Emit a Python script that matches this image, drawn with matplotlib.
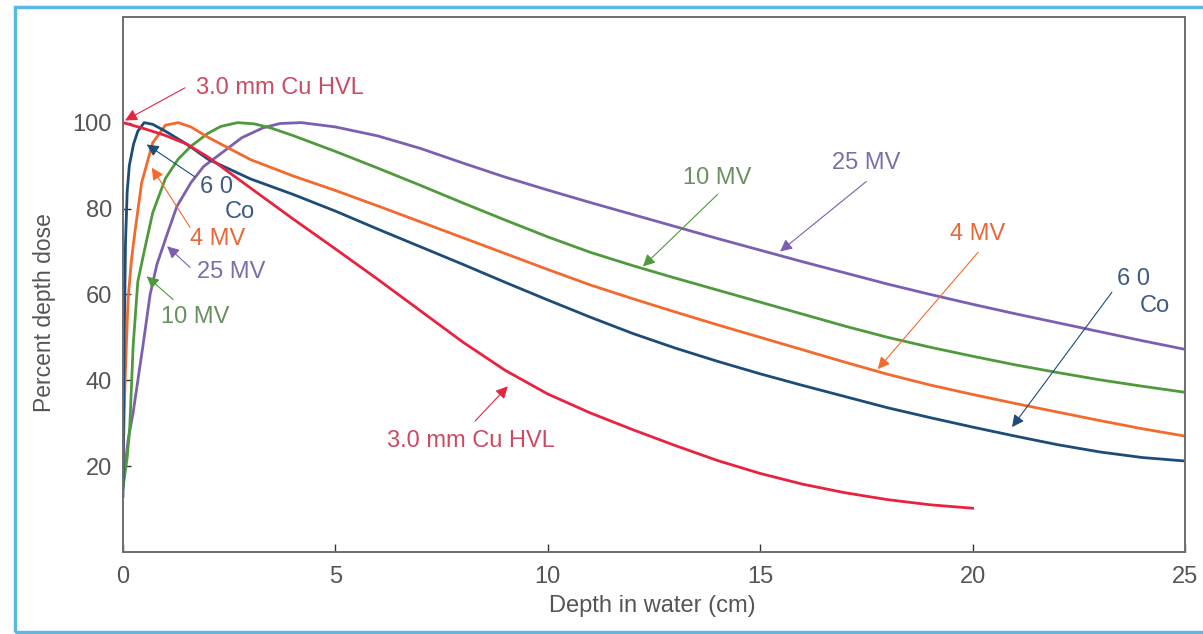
import matplotlib
matplotlib.use("Agg")
import matplotlib.pyplot as plt
from matplotlib.patches import Rectangle

plt.rcParams['font.family'] = ['Liberation Sans', 'DejaVu Sans']

# depth (cm) / percent depth dose
hvl_x = [0, 0.5, 1, 1.5, 2, 3, 4, 5, 6, 7, 8, 9, 10, 11, 12, 13, 14, 15, 16, 17, 18, 19, 20]
hvl_y = [100, 98.6, 97, 95, 92, 84.8, 77.6, 70.6, 63.5, 56.2, 48.9, 42.3, 36.8, 32.4, 28.5,
         24.8, 21.3, 18.3, 15.8, 13.8, 12.2, 11, 10.2]

co_x = [0, 0.03, 0.06, 0.1, 0.15, 0.25, 0.35, 0.5, 0.7, 1, 1.5, 2, 3, 4, 5, 6, 7, 8, 9,
        10, 11, 12, 13, 14, 15, 16, 17, 18, 19, 20, 21, 22, 23, 24, 25]
co_y = [13, 50, 72, 84, 90, 95, 98, 100, 99.6, 98, 95, 91.5, 86.9, 83.3, 79.4, 75.2, 71.1,
        67, 62.8, 58.7, 54.7, 50.9, 47.5, 44.4, 41.5, 38.8, 36.2, 33.6, 31.3, 29.1, 27.0,
        25.0, 23.3, 22.0, 21.2]

mv4_x = [0, 0.05, 0.12, 0.2, 0.28, 0.44, 0.7, 1.0, 1.3, 1.6, 2, 3, 4, 5, 6, 7, 8, 9, 10,
         11, 12, 13, 14, 15, 16, 17, 18, 19, 20, 21, 22, 23, 24, 25]
mv4_y = [20, 40, 58.8, 68, 74.4, 86, 95.3, 99.4, 100, 99, 96.6, 91.4, 87.6, 84.2, 80.6,
         76.9, 73.2, 69.5, 65.8, 62.2, 59.0, 55.9, 52.9, 50, 47.1, 44.2, 41.4, 38.9, 36.7,
         34.6, 32.6, 30.6, 28.7, 27]

mv10_x = [0, 0.1, 0.16, 0.24, 0.35, 0.5, 0.7, 1.0, 1.3, 1.6, 2, 2.3, 2.7, 3.1, 3.5, 4, 5,
          6, 7, 8, 9, 10, 11, 12, 13, 14, 15, 16, 17, 18, 19, 20, 21, 22, 23, 24, 25]
mv10_y = [15, 22, 29, 48, 63, 70, 79, 87, 91.5, 94.5, 97.5, 99.1, 100, 99.7, 98.7, 97,
          93.3, 89.4, 85.4, 81.3, 77.3, 73.4, 69.8, 66.7, 63.8, 61.0, 58.2, 55.4, 52.6,
          50.0, 47.7, 45.6, 43.6, 41.8, 40.1, 38.6, 37.2]

mv25_x = [0, 0.05, 0.12, 0.24, 0.47, 0.64, 0.8, 1.04, 1.27, 1.6, 1.9, 2.4, 2.8, 3.3, 3.7,
          4.2, 5, 6, 7, 8, 9, 10, 11, 12, 13, 14, 15, 16, 17, 18, 19, 20, 21, 22, 23, 24, 25]
mv25_y = [15, 20, 26, 32.5, 48, 60, 67, 74, 80.5, 86, 89.8, 93.5, 96.5, 98.8, 99.8, 100,
          99, 96.9, 94, 90.6, 87.3, 84.3, 81.4, 78.6, 75.8, 73, 70.3, 67.6, 65, 62.4, 60,
          57.7, 55.5, 53.4, 51.3, 49.2, 47.2]

x_ticks = [0, 5, 10, 15, 20, 25]
y_ticks = [20, 40, 60, 80, 100]

RED = "#e8233f"
BLUE = "#1d4c78"
ORANGE = "#f26a2e"
GREEN = "#4f9a3c"
PURPLE = "#7d5fb2"

fig = plt.figure(figsize=(12.03, 6.34), dpi=100)
ax = fig.add_axes([0.1022, 0.1293, 0.8828, 0.8439])

# light blue frame round the whole picture
fig.patches.append(Rectangle((15 / 1203, 2 / 634), 1.2, 625 / 634, transform=fig.transFigure,
                             fill=False, edgecolor="#5cb8e4", linewidth=2.5))

lw = 2.0
ax.plot(mv25_x, mv25_y, color=PURPLE, lw=lw)
ax.plot(mv10_x, mv10_y, color=GREEN, lw=lw)
ax.plot(mv4_x, mv4_y, color=ORANGE, lw=lw)
ax.plot(co_x, co_y, color=BLUE, lw=lw)
ax.plot(hvl_x, hvl_y, color=RED, lw=lw)

ax.set_xlim(0, 25)
ax.set_ylim(0, 124.6)
ax.set_xticks(x_ticks)
ax.set_yticks(y_ticks)
ax.tick_params(direction="in", length=6, width=1, colors="#333333", labelcolor="#555555",
               labelsize=17)
ax.tick_params(axis="y", pad=8)
ax.tick_params(axis="x", pad=10)
for side in ["left", "bottom", "top", "right"]:
    ax.spines[side].set_color("#6e6e6e")
    ax.spines[side].set_linewidth(1.4)

ax.set_xlabel("Depth in water (cm)", fontsize=17, color="#555555")
ax.set_ylabel("Percent depth dose", fontsize=16.5, color="#555555")
ax.xaxis.set_label_coords(0.498, -0.08)
ax.yaxis.set_label_coords(-0.063, 0.447)

# arrow tip, arrow tail, text position, text, alignment, arrow colour, text colour
notes = [
    ((0.05, 100.5), (1.46, 108.1), (1.72, 108.1), "3.0 mm Cu HVL", "left", RED, "#cc4a62"),
    ((0.56, 94.9), (1.69, 87.4), (2.21, 84.9), "6 0", "center", BLUE, "#3e5a80"),
    ((0.68, 89.5), (1.58, 75.6), (2.24, 72.8), "4 MV", "center", ORANGE, "#e8683a"),
    ((1.04, 71.2), (1.58, 66.3), (2.55, 65.1), "25 MV", "center", PURPLE, "#7a70a8"),
    ((0.56, 64.2), (1.18, 58.8), (1.7, 54.7), "10 MV", "center", GREEN, "#6a9060"),
    ((12.24, 66.5), (14.0, 83.3), (14.0, 87.2), "10 MV", "center", GREEN, "#6a9060"),
    ((15.47, 70.0), (17.5, 86.3), (17.49, 90.7), "25 MV", "center", PURPLE, "#7a70a8"),
    ((17.77, 42.6), (20.13, 69.8), (20.13, 74.0), "4 MV", "center", ORANGE, "#e8683a"),
    ((20.93, 29.1), (23.28, 60.5), (23.8, 63.5), "6 0", "center", BLUE, "#3e5a80"),
    ((9.06, 38.6), (8.29, 30.5), (8.19, 25.8), "3.0 mm Cu HVL", "center", RED, "#cc4a62"),
]
for tip, tail, pos, label, ha, col, tcol in notes:
    ax.annotate("", xy=tip, xytext=tail,
                arrowprops=dict(arrowstyle="-|>", color=col, lw=0.8, mutation_scale=18,
                                shrinkA=0, shrinkB=0))
    ax.text(pos[0], pos[1], label, ha=ha, va="center", fontsize=17, color=tcol)

ax.text(2.75, 79.1, "Co", ha="center", va="center", fontsize=17, color="#3e5a80")
ax.text(24.3, 57.2, "Co", ha="center", va="center", fontsize=17, color="#3e5a80")

fig.savefig("out.png", dpi=100)
